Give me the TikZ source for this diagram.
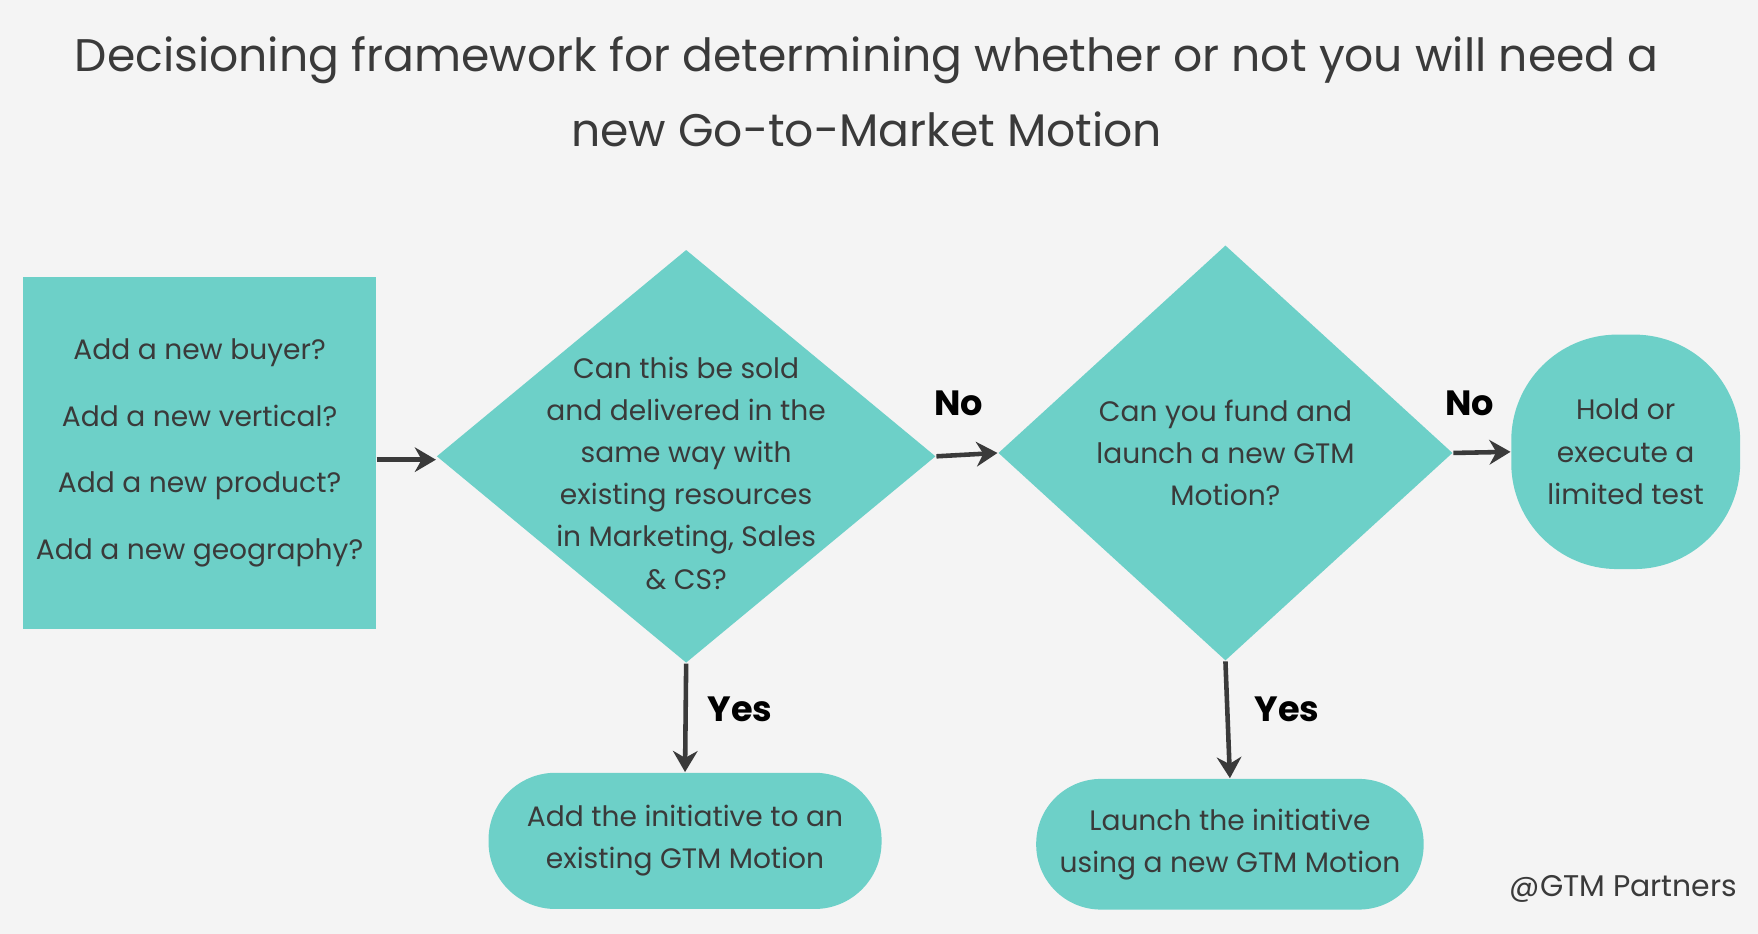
\documentclass[tikz,border=0pt]{standalone}
\usepackage{fontspec}
\setmainfont{Poppins}
\usetikzlibrary{shapes.geometric,arrows.meta}
\definecolor{teal}{HTML}{6DD0C8}
\definecolor{bg}{HTML}{F4F4F4}
\definecolor{ink}{HTML}{3A3A3A}
\def\pu{0.3178pt}
\tikzset{
  box/.style={fill=teal, draw=none, inner sep=0},
  dia/.style={diamond, fill=teal, inner sep=0, minimum width=447*\pu, minimum height=370*\pu},
  txt/.style={align=center, text=ink, font=\fontsize{8}{12}\selectfont},
  arr/.style={draw=ink, line width=1.3pt, -{Stealth[length=6pt,width=7pt]}},
  lbl/.style={text=black, font=\fontsize{10}{12}\selectfont\bfseries}
}
\begin{document}
\begin{tikzpicture}[x=0.01121cm, y=-0.01121cm]
    \fill[bg] (0,0) rectangle (1568,833);
    \useasboundingbox (0,0) rectangle (1568,833);
    % title
    \node[txt, font=\fontsize{13}{21.5}\selectfont] (title) at (773,82)
        {Decisioning framework for determining whether or not you will need a\\new Go-to-Market Motion};
    % shapes
    \node[box, minimum width=316*\pu, minimum height=315*\pu] (ask) at (178,404) {};
    \node[txt, align=center] at (ask) {Add a new buyer?\\[7pt]Add a new vertical?\\[7pt]Add a new product?\\[7pt]Add a new geography?};
    \node[dia] (sold) at (612,407) {};
    \node[txt] at (612,422) {Can this be sold\\and delivered in the\\same way with\\existing resources\\in Marketing, Sales\\\& CS?};
    \node[dia, minimum width=407*\pu, minimum height=372*\pu] (fund) at (1093,404) {};
    \node[txt] at (1093,404) {Can you fund and\\launch a new GTM\\Motion?};
    \node[box, rounded corners=95*\pu, minimum width=205*\pu, minimum height=210*\pu] (hold) at (1450,403) {};
    \node[txt] at (hold) {Hold or\\execute a\\limited test};
    \node[box, rounded corners=60*\pu, minimum width=352*\pu, minimum height=122*\pu] (add) at (611,750) {};
    \node[txt] at (add) {Add the initiative to an\\existing GTM Motion};
    \node[box, rounded corners=58*\pu, minimum width=347*\pu, minimum height=117*\pu] (launch) at (1097,753) {};
    \node[txt] at (launch) {Launch the initiative\\using a new GTM Motion};
    % connectors
    \draw[arr] (ask.east |- 0,410) -- (sold.west |- 0,410);
    \draw[arr] (sold.east) -- (fund.west);
    \draw[arr] (fund.east) -- (hold.west);
    \draw[arr] (sold.south) -- (add.north);
    \draw[arr] (fund.south) -- (launch.north);
    % labels
    \node[lbl] at (855,360) {No};
    \node[lbl] at (1311,360) {No};
    \node[lbl] at (660,633) {Yes};
    \node[lbl] at (1148,633) {Yes};
    \node[txt, font=\fontsize{8.5}{10}\selectfont] (credit) at (1448,793) {@GTM Partners};
\end{tikzpicture}
\end{document}
